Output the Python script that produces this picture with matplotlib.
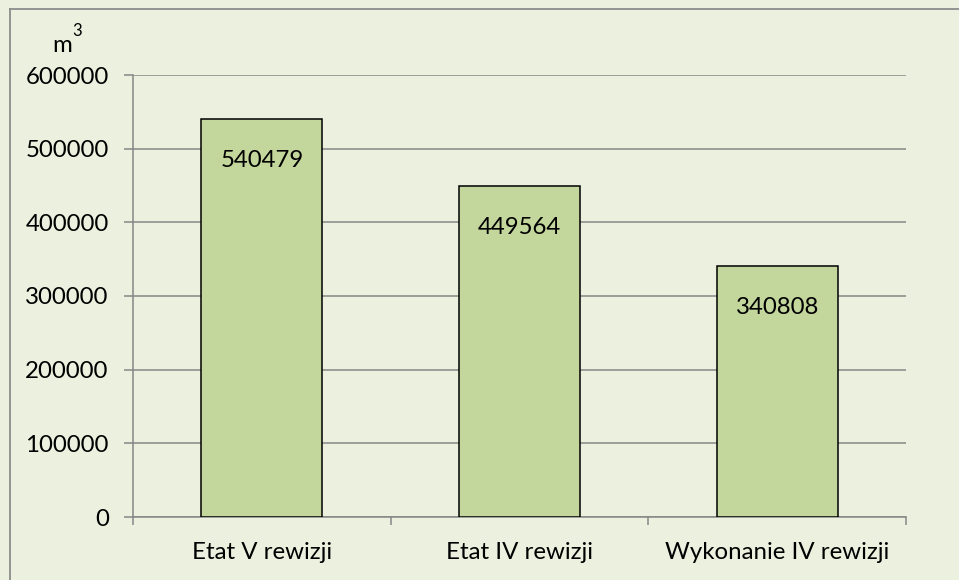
import matplotlib
matplotlib.use("Agg")
import matplotlib.pyplot as plt
from matplotlib.lines import Line2D

categories = ["Etat V rewizji", "Etat IV rewizji", "Wykonanie IV rewizji"]
values = [540479, 449564, 340808]
yticks = [0, 100000, 200000, 300000, 400000, 500000, 600000]

W, H = 959, 580
plt.rcParams['font.family'] = ['Lato', 'DejaVu Sans']
bg = "#EBF1DE"
grid_c = "#868686"
fs = 17.3

fig = plt.figure(figsize=(W/100, H/100), dpi=100, facecolor=bg)
ax = fig.add_axes([133/W, 1-517/H, (906-133)/W, (517-75)/H])
ax.set_facecolor(bg)

x = list(range(len(categories)))
ax.bar(x, values, width=0.47, color="#C3D69B", edgecolor="black", linewidth=1.1, zorder=3)
for xi, v in zip(x, values):
    ax.annotate(str(v), (xi, v), xytext=(0, -30), textcoords="offset points",
                ha="center", va="center", fontsize=fs, zorder=4)

ax.set_xlim(-0.5, 2.5)
ax.set_ylim(0, 600000)
ax.set_yticks(yticks)
ax.set_yticklabels([str(t) for t in yticks], fontsize=fs)
ax.yaxis.grid(True, color=grid_c, linewidth=1.1, zorder=0)
ax.set_axisbelow(True)
ax.tick_params(axis='y', length=6.5, width=1.1, color=grid_c, pad=11)

ax.set_xticks(x)
ax.set_xticklabels(categories, fontsize=fs)
ax.tick_params(axis='x', which='major', length=0, pad=18)
ax.set_xticks([-0.5, 0.5, 1.5, 2.5], minor=True)
ax.tick_params(axis='x', which='minor', length=6, width=1.1, color=grid_c)

for s in ["top", "right"]:
    ax.spines[s].set_visible(False)
for s in ["left", "bottom"]:
    ax.spines[s].set_color(grid_c)
    ax.spines[s].set_linewidth(1.1)

fig.text(62/W, 1-46/H, "m", fontsize=fs, ha="center", va="center")
fig.text(77/W, 1-31/H, "3", fontsize=12, ha="center", va="center")

fig.add_artist(Line2D([9.5/W, 9.5/W], [0, 1-8.5/H], color="#8C8C8C", linewidth=1.3, transform=fig.transFigure))
fig.add_artist(Line2D([9.5/W, 1], [1-8.5/H, 1-8.5/H], color="#8C8C8C", linewidth=1.3, transform=fig.transFigure))

fig.savefig("out.png", dpi=100, facecolor=bg)
